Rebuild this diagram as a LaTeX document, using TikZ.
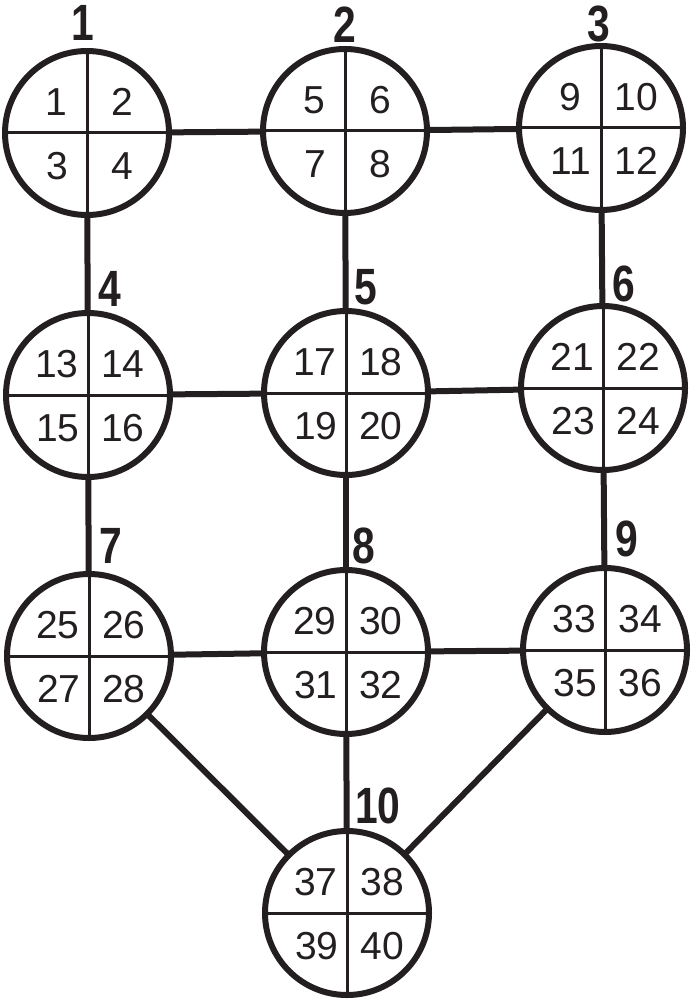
\documentclass[tikz,border=0pt]{standalone}
\usepackage{fontspec}
\setmainfont{Liberation Sans}
\usetikzlibrary{calc}
\definecolor{ink}{RGB}{35,31,32}
\tikzset{
  ring/.style={circle,draw=ink,line width=6pt,minimum size=164pt,inner sep=0pt,outer sep=0pt,fill=white},
  cross/.style={draw=ink,line width=3pt},
  link/.style={draw=ink,line width=6pt},
  num/.style={text=ink,inner sep=0pt,font=\fontsize{39}{42}\selectfont},
  lab/.style={text=ink,inner sep=0pt,font=\fontsize{51}{55}\selectfont\bfseries}
}
\begin{document}
\begin{tikzpicture}[x=1pt,y=-1pt]
\useasboundingbox (0,0) rectangle (691,1000);
\fill[white] (0,0) rectangle (691,1000);
% connectors first
\coordinate (p1) at (87,133);
\coordinate (p2) at (345,131);
\coordinate (p3) at (601,128);
\coordinate (p4) at (88,395);
\coordinate (p5) at (346,393);
\coordinate (p6) at (603,388);
\coordinate (p7) at (89,656);
\coordinate (p8) at (346,652);
\coordinate (p9) at (605,650);
\coordinate (p10) at (347,913);
\foreach \a/\b in {1/2,2/3,1/4,2/5,3/6,4/5,5/6,4/7,5/8,6/9,7/8,8/9,7/10,8/10,9/10}
  \draw[link] (p\a) -- (p\b);
% circles with quadrants
\foreach \n/\lx/\ly/\a/\b/\c/\d in {
  1/83/23/1/2/3/4,
  2/345/25/5/6/7/8,
  3/599/24/9/10/11/12,
  4/110/289/13/14/15/16,
  5/366/287/17/18/19/20,
  6/624/284/21/22/23/24,
  7/111/546/25/26/27/28,
  8/364/546/29/30/31/32,
  9/627/539/33/34/35/36,
  10/378/806/37/38/39/40}{
  \node[ring] (c\n) at (p\n) {};
  \draw[cross] (c\n.north) -- (c\n.south);
  \draw[cross] (c\n.west) -- (c\n.east);
  \node[num] (q\a) at ($(c\n.center)+(-31,-31)$) {\a};
  \node[num] (q\b) at ($(c\n.center)+(35,-31)$) {\b};
  \node[num] (q\c) at ($(c\n.center)+(-30,33)$) {\c};
  \node[num] (q\d) at ($(c\n.center)+(35,33)$) {\d};
  \node[lab] (l\n) at (\lx,\ly) {\scalebox{0.8}[1]{\n}};
}
\end{tikzpicture}
\end{document}
